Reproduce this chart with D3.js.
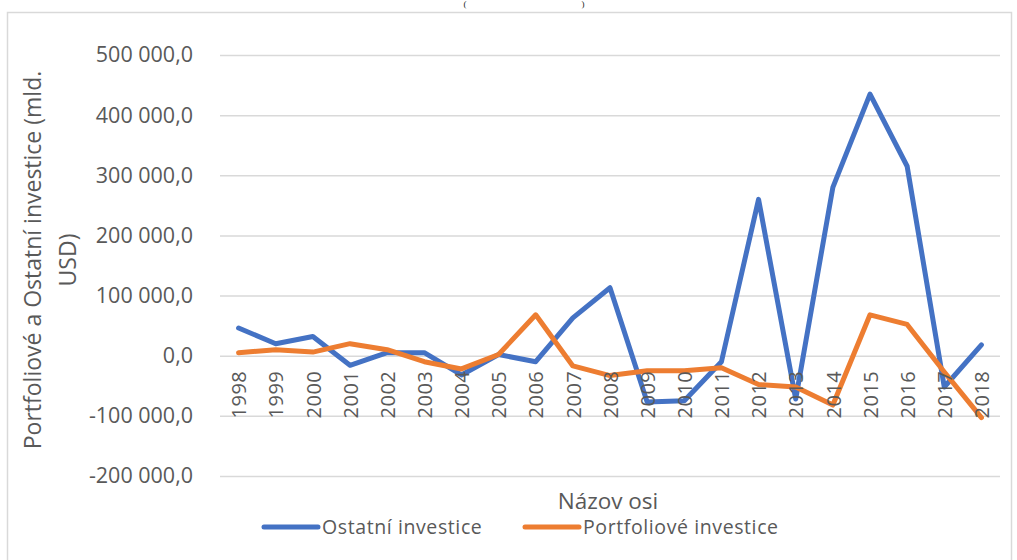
<!DOCTYPE html>
<html><head><meta charset="utf-8">
<script src="https://cdn.jsdelivr.net/npm/d3@7"></script>
<style>
body{margin:0;background:#fff;}
text{font-family:"Open Sans",sans-serif;fill:#595959;}
</style></head>
<body>
<svg id="c" width="1017" height="560"></svg>
<script>
const years = ["1998","1999","2000","2001","2002","2003","2004","2005","2006","2007","2008","2009","2010","2011","2012","2013","2014","2015","2016","2017","2018"];
const ostatni = [46000,20000,32000,-16000,5000,5000,-32000,2000,-10000,63000,113000,-77000,-75000,-10000,260000,-72000,280000,435000,315000,-52000,18000];
const portfolio = [5000,10000,6000,20000,10000,-10000,-22000,2000,68000,-17000,-33000,-25000,-25000,-20000,-48000,-52000,-82000,68000,52000,-27000,-103000];
const yTicks = [-200000,-100000,0,100000,200000,300000,400000,500000];
const seriesNames = ["Ostatní investice","Portfoliové investice"];
const colors = ["#4472C4","#ED7D31"];

const svg = d3.select("#c");
// remnants of a title above the chart (only the parentheses are visible)
[["(",465],[")",583]].forEach(p=>{
  svg.append("text").attr("x",p[1]).attr("y",7).attr("text-anchor","middle")
    .style("font-family","Liberation Serif, serif").style("font-size","9px").style("fill","#222").text(p[0]);
});
// chart border
svg.append("rect").attr("x",7.5).attr("y",12.5).attr("width",1004).attr("height",560)
  .attr("fill","none").attr("stroke","#d9d9d9").attr("stroke-width",1.5);

const L=220,R=1000,T=55,B=476;
const x = d3.scalePoint().domain(years).range([L,R]).padding(0.5);
const y = d3.scaleLinear().domain([-200000,500000]).range([B,T]);

const fmt = v => { const s = d3.format(",.1f")(Math.abs(v)).replace(/,/g," ").replace(".",","); return (v<0?"-":"")+s; };

const gy = svg.append("g").attr("transform",`translate(${L},0)`)
  .call(d3.axisLeft(y).tickValues(yTicks).tickSize(-(R-L)).tickFormat(fmt).tickPadding(27));
gy.select(".domain").remove();
gy.selectAll(".tick line").attr("stroke","#d9d9d9").attr("stroke-width",1.5);
gy.selectAll(".tick text").style("font-size","21.5px").style("fill","#595959").style("font-family","Open Sans");

// lines
const line = d3.line().x((d,i)=>x(years[i])).y(d=>y(d));
[ostatni,portfolio].forEach((s,k)=>{
  svg.append("path").datum(s).attr("d",line).attr("fill","none")
    .attr("stroke",colors[k]).attr("stroke-width",5).attr("stroke-linejoin","round").attr("stroke-linecap","round");
});

// x axis labels at zero line
const gx = svg.append("g").attr("transform",`translate(0,${y(0)})`)
  .call(d3.axisBottom(x).tickSize(0).tickPadding(0));
gx.select(".domain").remove();
gx.selectAll(".tick text").attr("transform","rotate(-90)").attr("text-anchor","end")
  .attr("x",-15).attr("y",0).attr("dy","0.36em")
  .style("font-size","20px").style("letter-spacing","0.5px").style("fill","#595959").style("font-family","Open Sans");

// y axis title
const yt = svg.append("text").attr("transform","translate(41,260) rotate(-90)").attr("text-anchor","middle")
  .style("font-size","23px");
yt.append("tspan").attr("x",0).attr("y",0).text("Portfoliové a Ostatní investice (mld.");
yt.append("tspan").attr("x",0).attr("y",35).text("USD)");

// x axis title
svg.append("text").attr("x",608).attr("y",509).attr("text-anchor","middle").style("font-size","22.5px").text("Názov osi");

// legend
const leg = [{x:264,tx:322},{x:525,tx:583}];
seriesNames.forEach((n,k)=>{
  svg.append("line").attr("x1",leg[k].x).attr("x2",leg[k].x+54).attr("y1",527).attr("y2",527)
    .attr("stroke",colors[k]).attr("stroke-width",5).attr("stroke-linecap","round");
  svg.append("text").attr("x",leg[k].tx).attr("y",534).style("font-size","19.5px").style("letter-spacing","0.6px").text(n);
});
</script>
</body></html>
